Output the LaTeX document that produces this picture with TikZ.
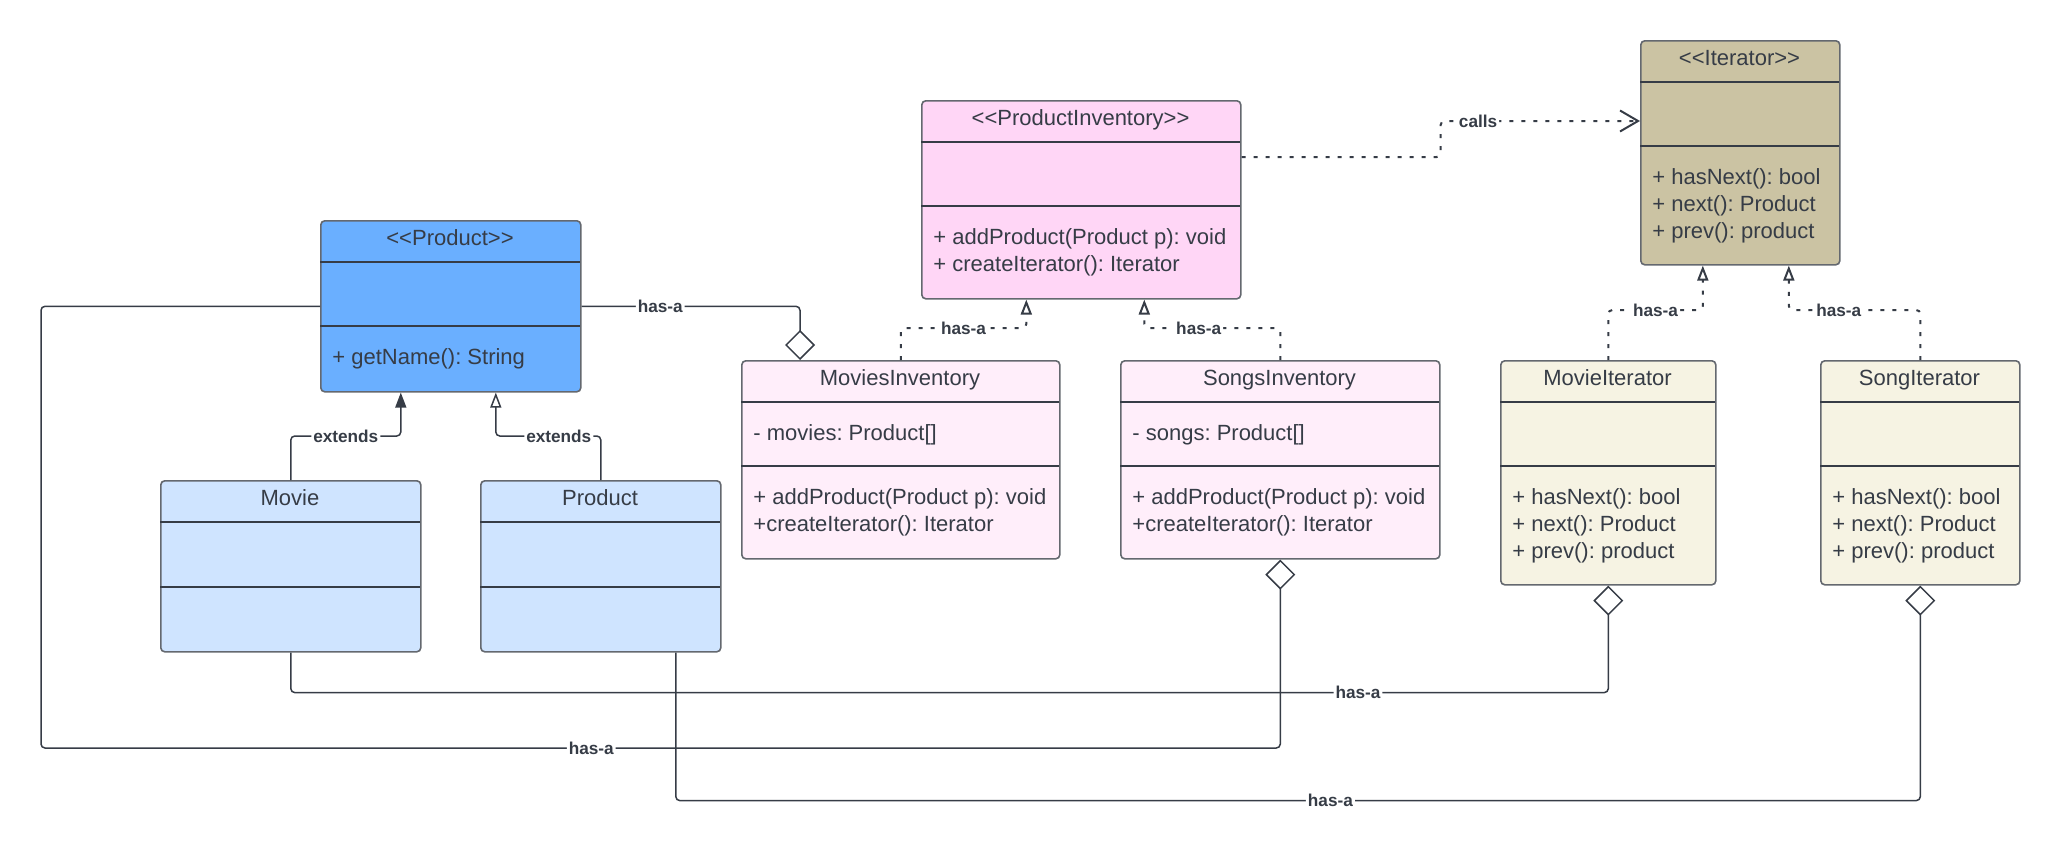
\documentclass[tikz,border=0pt]{standalone}
\usepackage{fontspec}
\setmainfont{Liberation Sans}
\usetikzlibrary{arrows.meta,calc}
\frenchspacing

\definecolor{ink}{HTML}{363C46}
\definecolor{edgegray}{HTML}{64686F}
\definecolor{prodblue}{HTML}{6AAFFF}
\definecolor{subblue}{HTML}{CFE4FF}
\definecolor{invpink}{HTML}{FFD6F6}
\definecolor{subpink}{HTML}{FFEEFA}
\definecolor{itertan}{HTML}{CBC3A3}
\definecolor{itercream}{HTML}{F6F3E3}

\tikzset{
  classbox/.style={draw=edgegray, line width=0.8pt, rounded corners=2pt, inner sep=0pt},
  divider/.style={draw=ink, line width=0.7pt},
  classtitle/.style={font=\fontsize{11}{13.5}\selectfont, text=ink, inner sep=0pt},
  member/.style={font=\fontsize{11}{13.5}\selectfont, text=ink, inner sep=0pt, align=left, anchor=north west},
  lbl/.style={font=\fontsize{8.6}{10}\selectfont\bfseries, text=ink, fill=white, inner sep=1pt},
  link/.style={draw=ink, line width=0.75pt, rounded corners=2pt},
  dashlink/.style={link, line width=1pt, dash pattern=on 2pt off 4pt},
  agg/.style={-{Diamond[open, length=15pt, width=15pt]}},
  ext/.style={-{Triangle[length=7.5pt, width=5.5pt]}},
  real/.style={-{Triangle[open, length=7.5pt, width=5.5pt]}},
  dep/.style={-{Straight Barb[length=9pt, width=10.5pt]}},
}

% name, left, top, width, h1, h2, h3, fill, title
\newcommand\umlclass[9]{%
  \node[classbox, fill=#8, anchor=north west, minimum width=#4*0.5pt,
        minimum height=(#5+#6+#7)*0.5pt] (#1) at (#2,#3) {};
  \draw[divider] (#2,#3+#5) -- ++(#4,0);
  \draw[divider] (#2,#3+#5+#6) -- ++(#4,0);
  \node[classtitle, anchor=base] (#1-title) at (#2+#4/2,#3+25) {#9};
}
\newcommand\stereo[1]{{<}{<}#1{>}{>}}

\begin{document}
\begin{tikzpicture}[x=0.5pt, y=-0.5pt]

  \useasboundingbox (0,0) rectangle (2061,851);

  %% classes
  \umlclass{prod}{320}{220}{260}{42}{64}{65}{prodblue}{\stereo{Product}}
  \umlclass{movie}{160}{480}{260}{42}{65}{64}{subblue}{Movie}
  \umlclass{psub}{480}{480}{240}{42}{65}{64}{subblue}{Product}
  \umlclass{pinv}{921}{100}{319}{42}{64}{92}{invpink}{\stereo{ProductInventory}}
  \umlclass{minv}{741}{360}{318}{42}{64}{92}{subpink}{MoviesInventory}
  \umlclass{sinv}{1120}{360}{319}{42}{64}{92}{subpink}{SongsInventory}
  \umlclass{iter}{1640}{40}{199}{42}{64}{118}{itertan}{\stereo{Iterator}}
  \umlclass{miter}{1500}{360}{215}{42}{64}{118}{itercream}{MovieIterator}
  \umlclass{siter}{1820}{360}{199}{42}{64}{118}{itercream}{SongIterator}

  %% members
  \node[member] (prod-ops) at (332,348) {+ getName(): String};
  \node[member] (pinv-ops) at (933,228) {+ addProduct(Product p): void\\+ createIterator(): Iterator};
  \node[member] (minv-attr) at (753,424) {- movies: Product[]};
  \node[member] (minv-ops) at (753,488) {+ addProduct(Product p): void\\+createIterator(): Iterator};
  \node[member] (sinv-attr) at (1132,424) {- songs: Product[]};
  \node[member] (sinv-ops) at (1132,488) {+ addProduct(Product p): void\\+createIterator(): Iterator};
  \node[member] (iter-ops) at (1652,168) {+ hasNext(): bool\\+ next(): Product\\+ prev(): product};
  \node[member] (miter-ops) at (1512,488) {+ hasNext(): bool\\+ next(): Product\\+ prev(): product};
  \node[member] (siter-ops) at (1832,488) {+ hasNext(): bool\\+ next(): Product\\+ prev(): product};

  %% extends
  \draw[link, ext] (movie.north) -- ++(0,-44) -| node[lbl, pos=0.25]{extends} ($(prod.south)+(-50,0)$); % Movie->Product
  \draw[link, real] (psub.north) -- ++(0,-44) -| node[lbl, pos=0.2]{extends} ($(prod.south)+(45,0)$); % Product->Product

  %% inventories and iterators
  \draw[dashlink, real] (minv.north) -- ++(0,-32) -| node[lbl, pos=0.25]{has-a} ($(pinv.south)+(-55,0)$); % MoviesInventory->ProductInventory
  \draw[dashlink, real] (sinv.north) -- ++(0,-32) -| node[lbl, pos=0.3]{has-a} ($(pinv.south)+(63,0)$); % SongsInventory->ProductInventory
  \draw[dashlink, real] (miter.north) -- ++(0,-50) -| node[lbl, pos=0.25]{has-a} ($(iter.south)+(-37.5,0)$); % MovieIterator->Iterator
  \draw[dashlink, real] (siter.north) -- ++(0,-50) -| node[lbl, pos=0.31]{has-a} ($(iter.south)+(48.5,0)$); % SongIterator->Iterator
  \draw[dashlink, dep] ($(pinv.north east)+(0,57)$) -- ++(199,0) |- node[lbl, pos=0.594]{calls} ($(iter.north west)+(0,81)$); % ProductInventory->Iterator

  %% aggregations
  \draw[link, agg] (prod.east) -| node[lbl, pos=0.18]{has-a} ($(minv.north west)+(59,0)$); % Product->MoviesInventory
  \draw[link, agg] (prod.west) -| (41,748) -| node[lbl, pos=0.222]{has-a} (sinv.south); % Product->SongsInventory
  \draw[link, agg] (movie.south) -- ++(0,40) -| node[lbl, pos=0.405]{has-a} (miter.south); % Movie->MovieIterator
  \draw[link, agg] ($(psub.south)+(75,0)$) -- ++(0,148) -| node[lbl, pos=0.263]{has-a} (siter.south); % Product->SongIterator

\end{tikzpicture}
\end{document}
